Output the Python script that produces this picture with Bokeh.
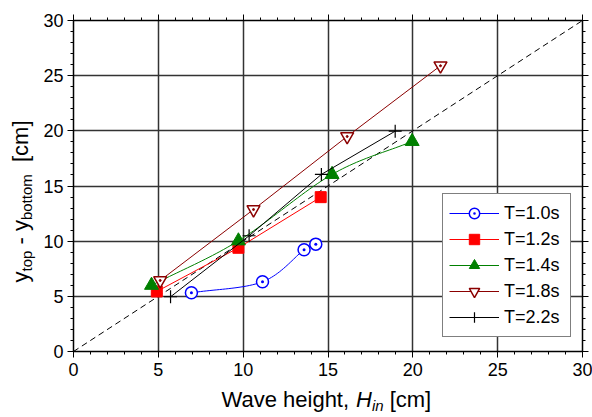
import numpy as np
from bokeh.plotting import figure
from bokeh.layouts import row, column
from bokeh.core.properties import value
from bokeh.models import (Range1d, LinearAxis, SingleIntervalTicker, Legend, LegendItem, Grid)
from bokeh.embed import file_html
from bokeh.resources import INLINE

# ---------------- data ----------------
series_names = ["T=1.0s", "T=1.2s", "T=1.4s", "T=1.8s", "T=2.2s"]
t10_x = [6.95, 11.14, 13.59, 14.28]
t10_y = [5.32, 6.32, 9.22, 9.73]
t12_x = [4.91, 9.72, 14.57]
t12_y = [5.44, 9.40, 13.99]
t14_x = [4.60, 9.72, 15.24, 19.96]
t14_y = [6.00, 10.03, 16.05, 19.04]
t18_x = [5.11, 10.61, 16.13, 21.63]
t18_y = [6.44, 12.87, 19.49, 25.90]
t22_x = [5.72, 10.35, 14.61, 18.96]
t22_y = [4.96, 10.49, 16.05, 19.97]
diag = [0, 30]
axis_min, axis_max, tick_step = 0, 30, 5
tick_values = [0, 5, 10, 15, 20, 25, 30]

FONT = "Liberation Sans"

# layout sizes (pixels)
W, H = 592, 417
YLAB_W = 38
MAIN_H = 388


def smooth(xs, ys, n=24):
    """Catmull-Rom curve through the data points (for the drawn line only)."""
    pts = np.column_stack([xs, ys]).astype(float)
    P = np.vstack([2 * pts[0] - pts[1], pts, 2 * pts[-1] - pts[-2]])
    out = []
    t = np.linspace(0, 1, n, endpoint=False)[:, None]
    for i in range(1, len(P) - 2):
        p0, p1, p2, p3 = P[i - 1], P[i], P[i + 1], P[i + 2]
        seg = 0.5 * ((2 * p1) + (-p0 + p2) * t + (2 * p0 - 5 * p1 + 4 * p2 - p3) * t ** 2
                     + (-p0 + 3 * p1 - 3 * p2 + p3) * t ** 3)
        out.append(seg)
    out.append(pts[-1:])
    c = np.vstack(out)
    return c[:, 0], c[:, 1]


p = figure(width=W - YLAB_W, height=MAIN_H, output_backend="svg", toolbar_location=None,
           x_range=Range1d(axis_min, axis_max), y_range=Range1d(axis_min, axis_max),
           min_border_left=73 - YLAB_W, min_border_right=10, min_border_top=20,
           min_border_bottom=MAIN_H - 351,
           x_axis_type=None, y_axis_type=None)
p.outline_line_color = None
p.background_fill_color = "white"
p.border_fill_color = "white"


def make_axis(show_labels):
    ax = LinearAxis(ticker=SingleIntervalTicker(interval=tick_step, num_minor_ticks=5))
    ax.axis_line_color = "black"
    ax.axis_line_width = 1.5
    ax.major_tick_line_color = "black"
    ax.major_tick_line_width = 1
    ax.major_tick_out = 6
    ax.major_tick_in = 0
    ax.minor_tick_line_color = "black"
    ax.minor_tick_line_width = 1
    ax.minor_tick_out = 3
    ax.minor_tick_in = 0
    ax.major_label_text_font = FONT
    ax.major_label_text_color = "black"
    ax.major_label_standoff = 5
    if show_labels:
        ax.major_label_text_font_size = "18px"
    else:
        ax.major_label_overrides = {v: "" for v in tick_values}
        ax.major_label_text_font_size = "1px"
        ax.major_label_standoff = 0
    return ax


xb = make_axis(True)
yl = make_axis(True)
yl.major_label_standoff = 4
xt = make_axis(False)
yr = make_axis(False)
p.add_layout(xb, "below")
p.add_layout(yl, "left")
p.add_layout(xt, "above")
p.add_layout(yr, "right")

gx = Grid(dimension=0, ticker=xb.ticker, grid_line_color="#333333", grid_line_width=1.5)
gy = Grid(dimension=1, ticker=yl.ticker, grid_line_color="#333333", grid_line_width=1.5)
p.add_layout(gx)
p.add_layout(gy)

# reference line y = x
p.line(diag, diag, line_color="black", line_width=1, line_dash="6 4")

# T=1.0s
sx, sy = smooth(t10_x, t10_y)
l10 = p.line(sx, sy, line_color="#0000ff", line_width=1)
m10 = p.scatter(t10_x, t10_y, marker="circle_dot", size=12, line_color="#0000ff",
                fill_color="white", line_width=1.5)
# T=1.2s
l12 = p.line(t12_x, t12_y, line_color="#ff0000", line_width=1)
m12 = p.scatter(t12_x, t12_y, marker="square", size=11, line_color="#ff0000",
                fill_color="#ff0000")
# T=1.4s
sx, sy = smooth(t14_x, t14_y)
l14 = p.line(sx, sy, line_color="#008000", line_width=1)
m14 = p.scatter(t14_x, t14_y, marker="triangle", size=14, line_color="#008000",
                fill_color="#008000")
# T=1.8s
l18 = p.line(t18_x, t18_y, line_color="#8b0000", line_width=1)
m18 = p.scatter(t18_x, t18_y, marker="inverted_triangle", size=13, line_color="#8b0000",
                fill_color="white", line_width=1.5)
d18 = p.scatter(t18_x, t18_y, marker="circle", size=2, line_color="#8b0000",
                fill_color="#8b0000")
# T=2.2s
l22 = p.line(t22_x, t22_y, line_color="black", line_width=1)
m22 = p.scatter(t22_x, t22_y, marker="cross", size=13, line_color="black", line_width=1.2)

legend = Legend(items=[
    LegendItem(label=series_names[0], renderers=[l10, m10]),
    LegendItem(label=series_names[1], renderers=[l12, m12]),
    LegendItem(label=series_names[2], renderers=[l14, m14]),
    LegendItem(label=series_names[3], renderers=[l18, m18]),
    LegendItem(label=series_names[4], renderers=[l22, m22]),
], location=(369, 14))
legend.label_text_font = FONT
legend.label_text_font_size = "18px"
legend.label_text_color = "black"
legend.border_line_color = "black"
legend.border_line_width = 1
legend.background_fill_color = "white"
legend.background_fill_alpha = 1
legend.padding = 6
legend.spacing = 0
legend.label_height = 20
legend.glyph_height = 26
legend.glyph_width = 50
legend.label_standoff = 5
legend.label_width = 60
legend.margin = 0
p.add_layout(legend, "center")

# ---------------- axis titles (with subscripts), in small text panels ----------------
BIG, SMALL = 22, 15
MID = 0.33  # distance from baseline to text middle, in em
EM = {'W': .944, 'a': .556, 'v': .5, 'e': .556, ' ': .278, 'h': .556, 'i': .222, 'g': .556,
      't': .278, ',': .278, '[': .278, 'c': .5, 'm': .833, ']': .278, 'y': .5, 'o': .556,
      'p': .556, '-': .333, 'b': .556, 'n': .556, 'H': .722}


def tw(s, size):
    return sum(EM.get(ch, .556) for ch in s) * size


def text_panel(w, h):
    f = figure(width=w, height=h, output_backend="svg", toolbar_location=None,
               x_range=Range1d(0, w), y_range=Range1d(0, h),
               x_axis_type=None, y_axis_type=None, min_border=0)
    f.outline_line_color = None
    f.grid.visible = False
    f.background_fill_color = "white"
    f.border_fill_color = "white"
    try:
        f.frame_align = False   # keep this panel's frame = whole panel
    except Exception:
        pass
    return f


def add_pieces(f, pieces, x0, y0, vertical):
    """pieces: (text, size px, subscript drop px, style, gap before in px)."""
    pos = 0.0
    for txt, size, drop, style, gap in pieces:
        pos += gap
        mid = MID * size
        if vertical:
            # text reads bottom-to-top; "below the baseline" is +x on screen
            x, y, ang = x0 + drop - mid, y0 + pos, np.pi / 2
        else:
            x, y, ang = x0 + pos, y0 - drop + mid, 0.0
        f.text(x=[x], y=[y], text=[txt], angle=ang,
               text_font=value(FONT), text_font_size=value(f"{size}px"),
               text_font_style=style, text_color="black",
               text_align="left", text_baseline="middle")
        pos += tw(txt, size)


SP = 0.278 * BIG
XLAB_H = H - MAIN_H
xlab = text_panel(W - YLAB_W, XLAB_H)
# baseline at page y = 406, text starts at page x = 221
add_pieces(xlab, [("Wave height,", BIG, 0, "normal", 0),
                  ("H", BIG, 0, "italic", SP),
                  ("in", SMALL, 4, "italic", 0),
                  ("[cm]", BIG, 0, "normal", SP)],
           221 - YLAB_W, H - 406, vertical=False)

ylab = text_panel(YLAB_W, H)
# baseline at page x = 27, text starts at page y = 282
add_pieces(ylab, [("y", BIG, 0, "normal", 0),
                  ("top", SMALL, 4, "normal", 0),
                  ("-", BIG, 0, "normal", SP),
                  ("y", BIG, 0, "normal", SP),
                  ("bottom", SMALL, 4, "normal", 0),
                  ("[cm]", BIG, 0, "normal", 2 * SP)],
           27, H - 282, vertical=True)

layout = row(ylab, column(p, xlab, spacing=0), spacing=0)
open("out.html", "w").write(file_html(layout, INLINE))
